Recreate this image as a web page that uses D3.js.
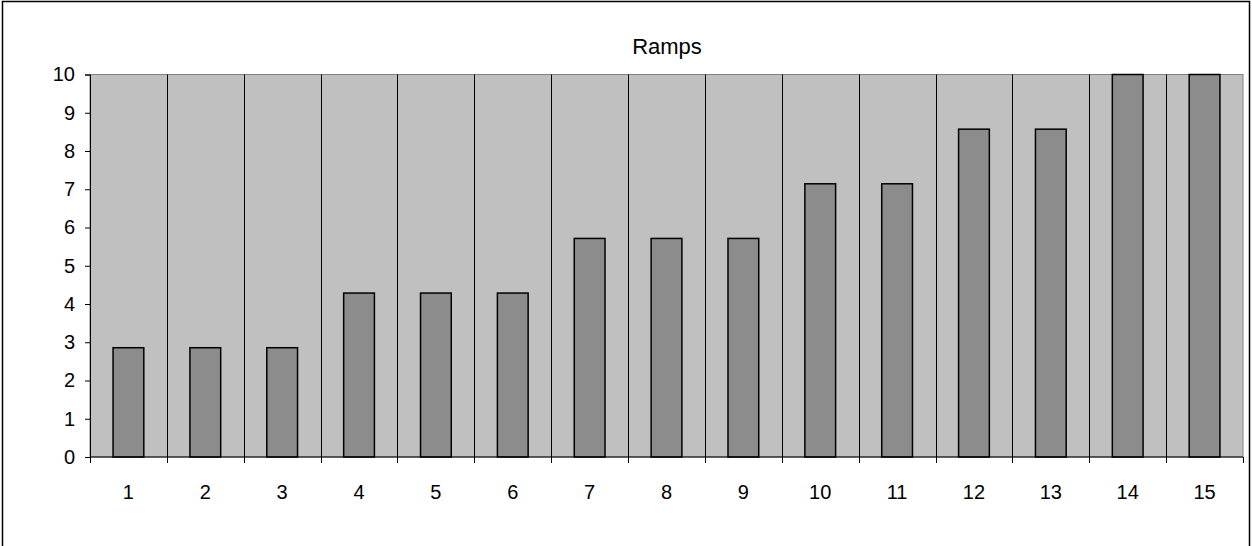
<!DOCTYPE html>
<html><head><meta charset="utf-8">
<script src="https://cdn.jsdelivr.net/npm/d3@7/dist/d3.min.js"></script>
<style>body{margin:0;background:#fff}svg{display:block}text{font-family:"Liberation Sans",Arial,sans-serif}</style>
</head><body><svg id="c" width="1252" height="546"></svg>
<script>
const title = "Ramps";
const categories = ["1","2","3","4","5","6","7","8","9","10","11","12","13","14","15"];
const values = [2.857,2.857,2.857,4.286,4.286,4.286,5.714,5.714,5.714,7.143,7.143,8.571,8.571,10,10];
const yTicks = [0,1,2,3,4,5,6,7,8,9,10];

const svg = d3.select("#c");
const L = 90, R = 1243, T = 74.5, B = 457;
svg.append("rect").attr("x",2.5).attr("y",1.5).attr("width",1247).attr("height",560)
  .attr("fill","#fff").attr("stroke","#000").attr("stroke-width",1.5);

const x = d3.scaleBand().domain(categories).range([L,R]).padding(0);
const y = d3.scaleLinear().domain([0,10]).range([B,T]);

svg.append("rect").attr("x",L).attr("y",T).attr("width",R-L).attr("height",B-T)
  .attr("fill","#c0c0c0").attr("stroke","#808080").attr("stroke-width",1);

svg.append("g").selectAll("line").data(categories.slice(1)).join("line")
  .attr("x1",d=>Math.round(x(d))+0.5).attr("x2",d=>Math.round(x(d))+0.5)
  .attr("y1",T).attr("y2",B).attr("stroke","#000").attr("stroke-width",1);

const bw = x.bandwidth()/2.5;
svg.append("g").selectAll("rect").data(values).join("rect")
  .attr("x",(d,i)=>x(categories[i])+(x.bandwidth()-bw)/2)
  .attr("y",d=>y(d)).attr("width",bw).attr("height",d=>B-y(d))
  .attr("fill","#8c8c8c").attr("stroke","#000").attr("stroke-width",1.5);

const ya = d3.axisLeft(y).tickValues(yTicks).tickSize(5).tickPadding(10).tickFormat(d3.format("d"));
const gy = svg.append("g").attr("transform",`translate(${L},0)`).call(ya);
gy.attr("font-size",null).attr("font-family",null);
gy.select(".domain").attr("stroke","#000");
gy.selectAll("text").style("font-size","20px").attr("fill","#000");

svg.append("line").attr("x1",L).attr("x2",R).attr("y1",B).attr("y2",B).attr("stroke","#000");
const bounds = categories.map(c=>x(c)).concat([R]);
svg.append("g").selectAll("line").data(bounds).join("line")
  .attr("x1",d=>Math.round(d)+0.5).attr("x2",d=>Math.round(d)+0.5)
  .attr("y1",B).attr("y2",B+6).attr("stroke","#000");
svg.append("g").selectAll("text").data(categories).join("text")
  .attr("x",d=>x(d)+x.bandwidth()/2).attr("y",499)
  .attr("text-anchor","middle").style("font-size","20px").attr("fill","#000").text(d=>d);

svg.append("text").attr("x",667).attr("y",54).attr("text-anchor","middle")
  .style("font-size","22px").attr("fill","#000").text(title);
</script></body></html>
